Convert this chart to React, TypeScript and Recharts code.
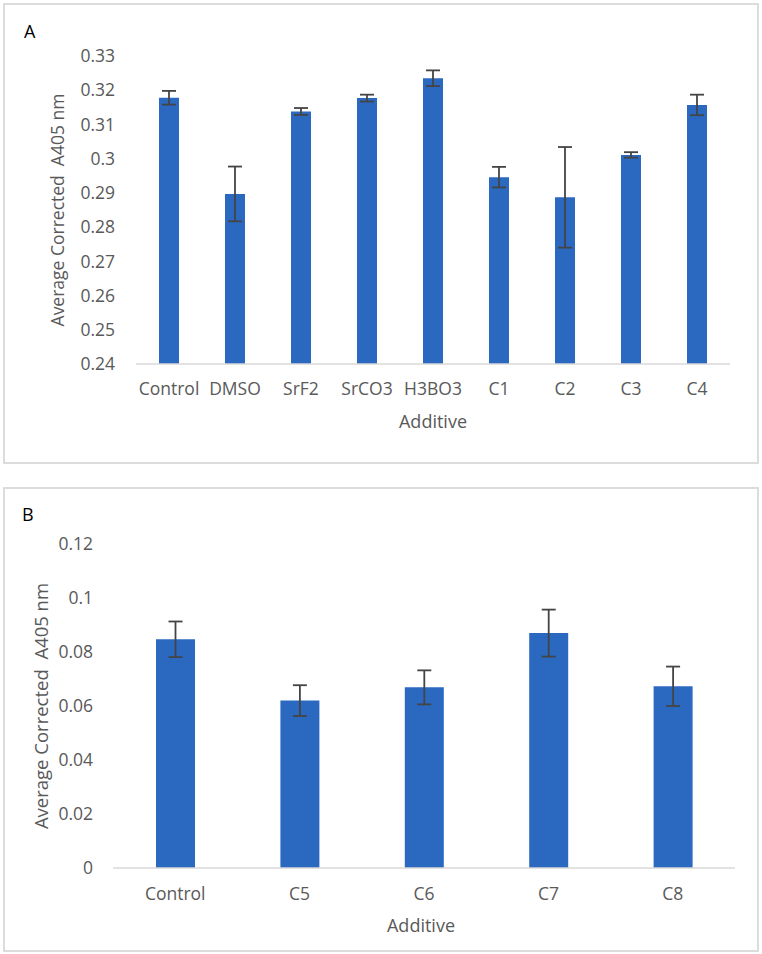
import React from 'react';
import { BarChart, Bar, XAxis, YAxis, ErrorBar, Label } from 'recharts';

const categoriesA = ['Control', 'DMSO', 'SrF2', 'SrCO3', 'H3BO3', 'C1', 'C2', 'C3', 'C4'];
const valuesA = [0.3178, 0.2897, 0.3138, 0.3177, 0.3235, 0.2946, 0.2887, 0.3011, 0.3157];
const errorsA = [0.002, 0.008, 0.001, 0.001, 0.0023, 0.003, 0.0147, 0.0008, 0.003];
const ticksA = [0.24, 0.25, 0.26, 0.27, 0.28, 0.29, 0.3, 0.31, 0.32, 0.33];

const categoriesB = ['Control', 'C5', 'C6', 'C7', 'C8'];
const valuesB = [0.0847, 0.062, 0.0669, 0.087, 0.0673];
const errorsB = [0.0066, 0.0057, 0.0063, 0.0087, 0.0073];
const ticksB = [0, 0.02, 0.04, 0.06, 0.08, 0.1, 0.12];

const dataA = categoriesA.map((c, i) => ({ name: c, value: valuesA[i], err: errorsA[i] }));
const dataB = categoriesB.map((c, i) => ({ name: c, value: valuesB[i], err: errorsB[i] }));

const FONT = 'Open Sans';
const GREY = '#595959';
const BLUE = '#2B69C0';

const fmt = (v: number) => String(Number(v.toFixed(2)));

const yLabel = (text: string, cx: number, fontSize: number) => (props: any) => {
  const vb = props.viewBox || {};
  const cy = vb.y + vb.height / 2;
  return (
    <text x={cx} y={cy} transform={`rotate(-90 ${cx} ${cy})`} textAnchor="middle" dominantBaseline="central"
      fill={GREY} fontSize={fontSize} fontFamily={FONT} style={{ whiteSpace: 'pre' }}>{text}</text>
  );
};

const xLabel = (text: string, cx: number, y: number, fontSize: number) => () => (
  <text x={cx} y={y} textAnchor="middle" dominantBaseline="central" fill={GREY} fontSize={fontSize} fontFamily={FONT}>{text}</text>
);

const panelBorder: React.CSSProperties = {
  position: 'absolute',
  border: '2px solid #dcdcdc',
  boxSizing: 'border-box',
};

const letterStyle: React.CSSProperties = {
  position: 'absolute',
  fontFamily: FONT,
  fontSize: 18,
  color: '#000',
  lineHeight: '20px',
};

export default function App() {
  return (
    <div style={{ position: 'absolute', left: 0, top: 0, width: 762, height: 954, background: '#fff', overflow: 'hidden' }}>
      <div style={{ ...panelBorder, left: 3, top: 3, width: 756, height: 461 }} />
      <div style={{ ...panelBorder, left: 3, top: 487, width: 756, height: 465 }} />
      <div style={{ ...letterStyle, left: 24, top: 21 }}>A</div>
      <div style={{ ...letterStyle, left: 22, top: 504 }}>B</div>

      <div style={{ position: 'absolute', left: 0, top: 0 }}>
        <BarChart width={762} height={470} data={dataA} margin={{ top: 56, right: 32, bottom: 0, left: 0 }}>
          <XAxis dataKey="name" height={106} tickLine={false} tickSize={0} tickMargin={19}
            axisLine={{ stroke: '#d9d9d9', strokeWidth: 1.5 }} interval={0}
            tick={{ fill: GREY, fontSize: 17.5, fontFamily: FONT }}>
            <Label content={xLabel('Additive', 433, 421, 18)} />
          </XAxis>
          <YAxis width={136} domain={[0.24, 0.33]} ticks={ticksA} tickFormatter={fmt} tickLine={false}
            tickSize={0} tickMargin={21} axisLine={false} interval={0}
            tick={{ fill: GREY, fontSize: 17.5, fontFamily: FONT }}>
            <Label content={yLabel('Average Corrected  A405 nm', 57, 17.5)} />
          </YAxis>
          <Bar dataKey="value" fill={BLUE} barSize={20} isAnimationActive={false}>
            <ErrorBar dataKey="err" width={7} stroke="#444444" strokeWidth={1.8} isAnimationActive={false} />
          </Bar>
        </BarChart>
      </div>

      <div style={{ position: 'absolute', left: 0, top: 480 }}>
        <BarChart width={762} height={474} data={dataB} margin={{ top: 64, right: 27, bottom: 0, left: 0 }}>
          <XAxis dataKey="name" height={86} tickLine={false} tickSize={0} tickMargin={20}
            axisLine={{ stroke: '#d9d9d9', strokeWidth: 1.5 }} interval={0}
            tick={{ fill: GREY, fontSize: 17.5, fontFamily: FONT }}>
            <Label content={xLabel('Additive', 421, 445, 18)} />
          </XAxis>
          <YAxis width={113} domain={[0, 0.12]} ticks={ticksB} tickFormatter={fmt} tickLine={false}
            tickSize={0} tickMargin={20} axisLine={false} interval={0}
            tick={{ fill: GREY, fontSize: 17.5, fontFamily: FONT }}>
            <Label content={yLabel('Average Corrected  A405 nm', 40, 18.5)} />
          </YAxis>
          <Bar dataKey="value" fill={BLUE} barSize={39} isAnimationActive={false}>
            <ErrorBar dataKey="err" width={7} stroke="#444444" strokeWidth={1.8} isAnimationActive={false} />
          </Bar>
        </BarChart>
      </div>
    </div>
  );
}
